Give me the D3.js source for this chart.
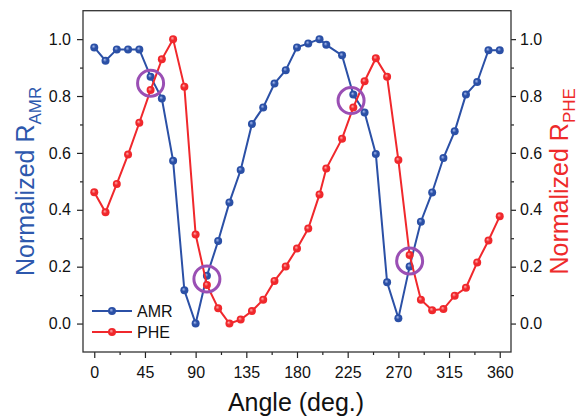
<!DOCTYPE html>
<html>
<head>
<meta charset="utf-8">
<script src="https://cdn.jsdelivr.net/npm/d3@7"></script>
<style>
  body { margin: 0; background: #fff; }
  svg { display: block; font-family: 'Liberation Sans', Arial, sans-serif; }
</style>
</head>
<body>
<div id="chart"></div>
<script>
// angle (deg.) for both curves
var angles = [0, 10, 20, 30, 40, 50, 60, 70, 80, 90, 100, 110, 120, 130, 140, 150, 160, 170, 180,
              190, 200, 206, 220, 230, 240, 250, 260, 270, 280, 290, 300, 310, 320, 330, 340, 350, 360];
var amr = [0.971, 0.924, 0.964, 0.964, 0.964, 0.868, 0.791, 0.572, 0.117, 0.0, 0.168, 0.29, 0.426,
           0.540, 0.702, 0.760, 0.844, 0.891, 0.971, 0.985, 1.0, 0.980, 0.943, 0.805, 0.742, 0.596,
           0.145, 0.019, 0.201, 0.358, 0.461, 0.582, 0.676, 0.805, 0.849, 0.961, 0.961];
var phe = [0.462, 0.391, 0.491, 0.594, 0.706, 0.821, 0.929, 1.0, 0.833, 0.313, 0.136, 0.054, 0.0,
           0.014, 0.044, 0.084, 0.150, 0.201, 0.264, 0.334, 0.454, 0.545, 0.650, 0.760, 0.852, 0.933,
           0.868, 0.575, 0.241, 0.084, 0.047, 0.051, 0.098, 0.126, 0.215, 0.292, 0.377];
// crossing markers (purple rings)
var ringAngles = [50, 100, 228, 280];
var ringValues = [0.845, 0.157, 0.784, 0.22];

var xTicks = [0, 45, 90, 135, 180, 225, 270, 315, 360];
var xMinor = [22.5, 67.5, 112.5, 157.5, 202.5, 247.5, 292.5, 337.5];
var yTicks = [0, 0.2, 0.4, 0.6, 0.8, 1.0];
var yMinor = [0.1, 0.3, 0.5, 0.7, 0.9];

var W = 579, H = 419;
var margin = {top: 10.7, right: 68, bottom: 67, left: 83};
var blue = '#2b50a6', red = '#f0282c', purple = '#9a4fb4';

var x = d3.scaleLinear().domain([-10, 370]).range([margin.left, W - margin.right]);
var y = d3.scaleLinear().domain([-0.1, 1.1]).range([H - margin.bottom, margin.top]);

var svg = d3.select('#chart').append('svg')
  .attr('width', W).attr('height', H);

// ball-like marker fills
var defs = svg.append('defs');
[['gBlue', '#a9bdf0', blue], ['gRed', '#ffb0b0', red]].forEach(function(g) {
  var rg = defs.append('radialGradient').attr('id', g[0])
    .attr('cx', '50%').attr('cy', '50%').attr('fx', '38%').attr('fy', '35%').attr('r', '55%');
  rg.append('stop').attr('offset', '0%').attr('stop-color', g[1]);
  rg.append('stop').attr('offset', '45%').attr('stop-color', g[2]);
  rg.append('stop').attr('offset', '100%').attr('stop-color', g[2]);
});

// axes
function styleAxis(g) {
  g.select('.domain').remove();
  g.selectAll('line').attr('stroke', '#222').attr('stroke-width', 1.2);
  g.selectAll('text').attr('fill', '#111').style('font-size', '16px');
}
var yBottom = y.range()[0], yTop = y.range()[1];

svg.append('g').attr('transform', 'translate(0,' + yBottom + ')')
  .call(d3.axisBottom(x).tickValues(xTicks).tickSize(6).tickPadding(9))
  .call(styleAxis);
svg.append('g').attr('transform', 'translate(0,' + yBottom + ')')
  .call(d3.axisBottom(x).tickValues(xMinor).tickSize(3).tickFormat(''))
  .call(styleAxis);

svg.append('g').attr('transform', 'translate(' + margin.left + ',0)')
  .call(d3.axisLeft(y).tickValues(yTicks).tickSize(6).tickPadding(6).tickFormat(d3.format('.1f')))
  .call(styleAxis);
svg.append('g').attr('transform', 'translate(' + margin.left + ',0)')
  .call(d3.axisLeft(y).tickValues(yMinor).tickSize(3).tickFormat(''))
  .call(styleAxis);

var rightX = W - margin.right;
svg.append('g').attr('transform', 'translate(' + rightX + ',0)')
  .call(d3.axisRight(y).tickValues(yTicks).tickSize(5).tickPadding(4).tickFormat(d3.format('.1f')))
  .call(styleAxis);
svg.append('g').attr('transform', 'translate(' + rightX + ',0)')
  .call(d3.axisRight(y).tickValues(yMinor).tickSize(3).tickFormat(''))
  .call(styleAxis);

// frame
svg.append('rect')
  .attr('x', margin.left).attr('y', yTop)
  .attr('width', rightX - margin.left).attr('height', yBottom - yTop)
  .attr('fill', 'none').attr('stroke', '#333').attr('stroke-width', 1.3);

// series
var line = d3.line().x(function(d) { return x(d[0]); }).y(function(d) { return y(d[1]); });
var series = [
  {name: 'AMR', vals: amr, color: blue, grad: 'url(#gBlue)'},
  {name: 'PHE', vals: phe, color: red, grad: 'url(#gRed)'}
];
series.forEach(function(s) {
  var pts = angles.map(function(a, i) { return [a, s.vals[i]]; });
  svg.append('path').datum(pts)
    .attr('d', line).attr('fill', 'none')
    .attr('stroke', s.color).attr('stroke-width', 2);
  svg.selectAll(null).data(pts).enter().append('circle')
    .attr('cx', function(d) { return x(d[0]); })
    .attr('cy', function(d) { return y(d[1]); })
    .attr('r', 4).attr('fill', s.grad);
});

// purple rings
svg.selectAll('.ring').data(ringAngles).enter().append('circle')
  .attr('class', 'ring')
  .attr('cx', function(d) { return x(d); })
  .attr('cy', function(d, i) { return y(ringValues[i]); })
  .attr('r', 13).attr('fill', 'none')
  .attr('stroke', purple).attr('stroke-width', 3);

// legend
var leg = svg.append('g');
series.forEach(function(s, i) {
  var ly = 311 + i * 21;
  leg.append('line').attr('x1', 92).attr('x2', 132).attr('y1', ly).attr('y2', ly)
    .attr('stroke', s.color).attr('stroke-width', 2);
  leg.append('circle').attr('cx', 112).attr('cy', ly).attr('r', 4).attr('fill', s.grad);
  leg.append('text').attr('x', 137).attr('y', ly + 6)
    .style('font-size', '16px').attr('fill', '#111').text(s.name);
});

// titles
svg.append('text')
  .attr('x', (margin.left + rightX) / 2 - 1).attr('y', 411)
  .attr('text-anchor', 'middle').style('font-size', '25px').attr('fill', '#111')
  .text('Angle (deg.)');

var cy = (yTop + yBottom) / 2;
var lt = svg.append('text')
  .attr('transform', 'translate(34,' + cy + ') rotate(-90)')
  .attr('text-anchor', 'middle').style('font-size', '25px').attr('fill', '#2d58ad');
lt.append('tspan').text('Normalized R');
lt.append('tspan').attr('dy', 7).style('font-size', '17px').text('AMR');

var rt = svg.append('text')
  .attr('transform', 'translate(568,' + cy + ') rotate(-90)')
  .attr('text-anchor', 'middle').style('font-size', '25px').attr('fill', '#ee2a2a');
rt.append('tspan').text('Normalized R');
rt.append('tspan').attr('dy', 7).style('font-size', '17px').text('PHE');
</script>
</body>
</html>
